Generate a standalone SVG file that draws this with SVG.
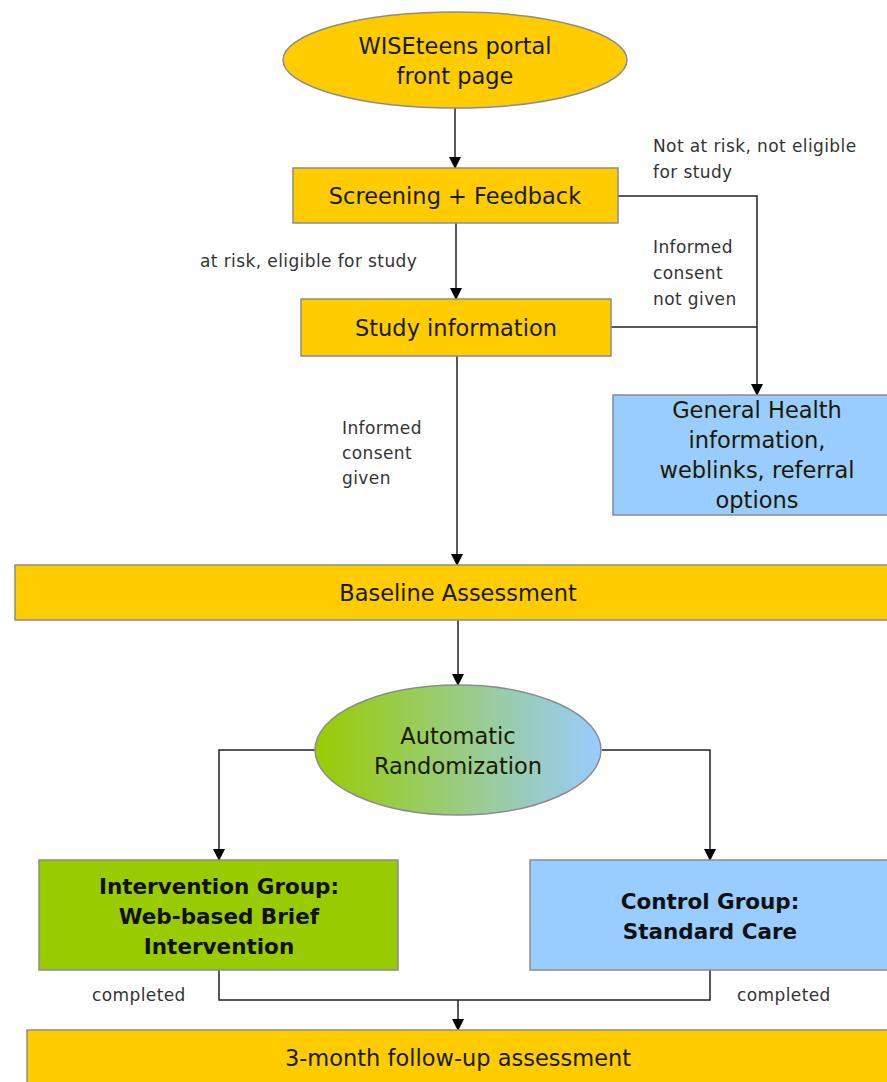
<svg xmlns="http://www.w3.org/2000/svg" width="887" height="1082" viewBox="0 0 887 1082">
<style>
.box{stroke:#8c8c8c;stroke-width:1.5}
.y{fill:#ffcc00}
.b{fill:#99ccff}
.g{fill:#99cc00}
.t{font-family:"DejaVu Sans",Verdana,sans-serif;font-size:22.5px;fill:#1a1a00;text-anchor:middle}
.tb{font-family:"DejaVu Sans",Verdana,sans-serif;font-size:21.5px;fill:#111;text-anchor:middle;font-weight:bold}
.l{font-family:"DejaVu Sans",Verdana,sans-serif;font-size:17px;fill:#333;letter-spacing:0.4px}
.c{fill:none;stroke:#222;stroke-width:1.5}
</style>
<defs>
<marker id="arr" markerWidth="12" markerHeight="12" refX="11" refY="6" orient="auto" markerUnits="userSpaceOnUse" viewBox="0 0 12 12">
<path d="M0,0 L12,6 L0,12 Z" fill="#000"/>
</marker>
<linearGradient id="grad" x1="0" y1="0" x2="1" y2="0">
<stop offset="0" stop-color="#99cc00"/>
<stop offset="1" stop-color="#99ccff"/>
</linearGradient>
</defs>
<rect width="887" height="1082" fill="#fff"/>
<g id="connectors">
<path class="c" d="M455,108 V168" marker-end="url(#arr)"/>
<path class="c" d="M456,223 V299" marker-end="url(#arr)"/>
<path class="c" d="M618,196 H757 V395" marker-end="url(#arr)"/>
<path class="c" d="M611,327 H757"/>
<path class="c" d="M457,356 V565" marker-end="url(#arr)"/>
<path class="c" d="M458,620 V685" marker-end="url(#arr)"/>
<path class="c" d="M315,750 H219 V860" marker-end="url(#arr)"/>
<path class="c" d="M602,750 H710 V860" marker-end="url(#arr)"/>
<path class="c" d="M219,970 V1000 H710 V970"/>
<path class="c" d="M458,1000 V1030" marker-end="url(#arr)"/>
<text class="l" x="653" y="152">Not at risk, not eligible</text>
<text class="l" x="653" y="178">for study</text>
<text class="l" x="653" y="253">Informed</text>
<text class="l" x="653" y="279">consent</text>
<text class="l" x="653" y="305">not given</text>
<text class="l" x="200" y="267">at risk, eligible for study</text>
<text class="l" x="342" y="434">Informed</text>
<text class="l" x="342" y="459">consent</text>
<text class="l" x="342" y="484">given</text>
<text class="l" x="92" y="1001">completed</text>
<text class="l" x="737" y="1001">completed</text>
</g>
<g id="portal">
<ellipse class="box y" cx="455" cy="60" rx="172" ry="48"/>
<text class="t" x="455" y="54">WISEteens portal</text>
<text class="t" x="455" y="84">front page</text>
</g>
<g id="screening">
<rect class="box y" x="293" y="168" width="325" height="55"/>
<text class="t" x="455" y="204">Screening + Feedback</text>
</g>
<g id="study-info">
<rect class="box y" x="301" y="299" width="310" height="57"/>
<text class="t" x="456" y="336">Study information</text>
</g>
<g id="general-health">
<rect class="box b" x="613" y="395" width="280" height="120"/>
<text class="t" x="757" y="418">General Health</text>
<text class="t" x="757" y="448">information,</text>
<text class="t" x="757" y="478">weblinks, referral</text>
<text class="t" x="757" y="508">options</text>
</g>
<g id="baseline">
<rect class="box y" x="15" y="565" width="880" height="55"/>
<text class="t" x="458" y="601">Baseline Assessment</text>
</g>
<g id="randomization">
<ellipse class="box" fill="url(#grad)" cx="458" cy="750" rx="143" ry="65"/>
<text class="t" x="458" y="744">Automatic</text>
<text class="t" x="458" y="774">Randomization</text>
</g>
<g id="intervention">
<rect class="box g" x="39" y="860" width="359" height="110"/>
<text class="tb" x="219" y="894">Intervention Group:</text>
<text class="tb" x="219" y="924">Web-based Brief</text>
<text class="tb" x="219" y="954">Intervention</text>
</g>
<g id="control">
<rect class="box b" x="530" y="860" width="365" height="110"/>
<text class="tb" x="710" y="909">Control Group:</text>
<text class="tb" x="710" y="939">Standard Care</text>
</g>
<g id="followup">
<rect class="box y" x="27" y="1030" width="870" height="60"/>
<text class="t" x="458" y="1066">3-month follow-up  assessment</text>
</g>
</svg>
